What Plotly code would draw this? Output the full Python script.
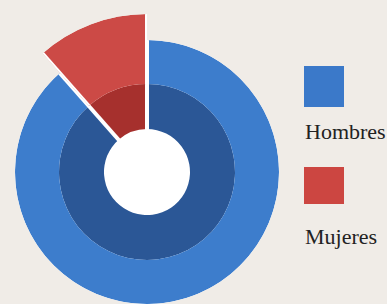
import math
import plotly.graph_objects as go

# Data
categories = ["Hombres", "Mujeres"]
shares = [88.5, 11.5]  # percent

# Styling
outer_colors = ["#3d7dcc", "#cc4a46"]
inner_colors = ["#2b5796", "#a6302d"]
legend_colors = ["#3b79c9", "#cc4641"]
bg = "#f0ece7"

HOLE_R = 43
INNER_R = 88
OUTER_R = 132
PULL_R = 158

total = sum(shares)
widths = [s / total * 360 for s in shares]
starts = []
acc = 0
for w in widths:
    starts.append(acc)
    acc += w
centers = [s + w / 2 for s, w in zip(starts, widths)]

W, H = 387, 304
cx, cy = 147, 172  # pixel centre of the rings

fig = go.Figure()

# inner ring
fig.add_trace(go.Barpolar(
    theta=centers, width=widths,
    base=[HOLE_R] * 2, r=[INNER_R - HOLE_R] * 2,
    marker=dict(color=inner_colors, line=dict(width=0)),
    showlegend=False, hoverinfo="skip", subplot="polar"))

# outer ring: Hombres
fig.add_trace(go.Barpolar(
    theta=[centers[0]], width=[widths[0]],
    base=[INNER_R], r=[OUTER_R - INNER_R],
    marker=dict(color=outer_colors[0], line=dict(width=0)),
    showlegend=False, hoverinfo="skip", subplot="polar"))

# outer slice: Mujeres, drawn in a sector subplot so it can reach further out
fig.add_trace(go.Barpolar(
    theta=[centers[1]], width=[widths[1]],
    base=[INNER_R], r=[PULL_R - INNER_R],
    marker=dict(color=outer_colors[1], line=dict(width=0)),
    showlegend=False, hoverinfo="skip", subplot="polar2"))

# white separators along the edges of the Mujeres slice
for edge in [starts[1], starts[1] + widths[1]]:
    fig.add_trace(go.Scatterpolar(
        theta=[edge, edge], r=[HOLE_R - 2, OUTER_R],
        mode="lines", line=dict(color="white", width=4),
        showlegend=False, hoverinfo="skip", subplot="polar"))
    fig.add_trace(go.Scatterpolar(
        theta=[edge, edge], r=[INNER_R, PULL_R + 2],
        mode="lines", line=dict(color="white", width=4),
        cliponaxis=False,
        showlegend=False, hoverinfo="skip", subplot="polar2"))

# sector (screen angles, counter-clockwise from east) occupied by Mujeres
sec0 = 90.0
sec1 = 90.0 + widths[1]
sec_w = PULL_R * -math.cos(math.radians(sec1))  # horizontal extent left of centre

angular_common = dict(rotation=90, direction="clockwise", visible=False,
                      showgrid=False, showline=False, showticklabels=False,
                      ticks="")

fig.update_layout(
    width=W, height=H, autosize=False,
    margin=dict(l=0, r=0, t=0, b=0),
    paper_bgcolor=bg, plot_bgcolor=bg,
    showlegend=False,
    polar=dict(
        domain=dict(x=[(cx - OUTER_R) / W, (cx + OUTER_R) / W],
                    y=[(H - cy - OUTER_R) / H, (H - cy + OUTER_R) / H]),
        bgcolor="white",
        radialaxis=dict(range=[0, OUTER_R], visible=False, showgrid=False),
        angularaxis=angular_common,
        barmode="overlay",
    ),
    polar2=dict(
        domain=dict(x=[(cx - sec_w) / W, cx / W],
                    y=[(H - cy) / H, (H - cy + PULL_R) / H]),
        sector=[sec0, sec1],
        bgcolor="rgba(0,0,0,0)",
        radialaxis=dict(range=[0, PULL_R], visible=False, showgrid=False),
        angularaxis=angular_common,
        barmode="overlay",
    ),
)

# custom legend: squares with labels below
sq_x0, sq_x1 = 304, 344
sq_y = [(66, 107), (167, 204)]
label_y = [131, 236]
for i, name in enumerate(categories):
    y0, y1 = sq_y[i]
    fig.add_shape(type="rect", xref="paper", yref="paper",
                  x0=sq_x0 / W, x1=sq_x1 / W, y0=1 - y1 / H, y1=1 - y0 / H,
                  fillcolor=legend_colors[i], line=dict(width=0))
    fig.add_annotation(xref="paper", yref="paper", x=303 / W, y=1 - label_y[i] / H,
                       xanchor="left", yanchor="middle", showarrow=False,
                       text=name,
                       font=dict(family="Liberation Serif", size=22, color="#222222"))

fig.write_html("out.html", config={"displayModeBar": False},
               post_script="document.body.style.margin='0px';")
